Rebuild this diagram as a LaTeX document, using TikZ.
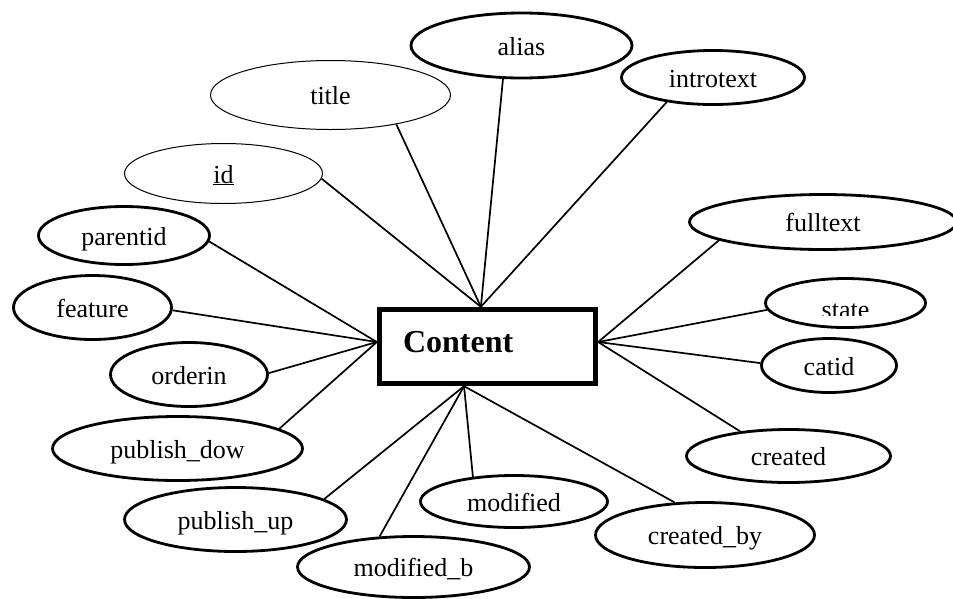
\documentclass[tikz,border=0pt]{standalone}
\usepackage{fontspec}
\setmainfont{Liberation Serif}
\usetikzlibrary{shapes.geometric,calc}
\tikzset{
  attr/.style={ellipse, draw, line width=2.8pt, inner sep=0pt,
    font=\fontsize{26}{30}\selectfont, text height=19pt, text depth=0pt},
  thinattr/.style={attr, line width=1pt},
  entity/.style={rectangle, draw, line width=5.3pt, minimum width=216pt,
    minimum height=74pt, text width=169pt, inner xsep=23.5pt, inner ysep=0pt,
    align=left, text height=22pt, text depth=11pt,
    font=\fontsize{32}{38}\selectfont\bfseries},
  link/.style={line width=1.7pt}
}
\begin{document}
\begin{tikzpicture}[x=1pt, y=-1pt]
  \clip (0,0) rectangle (953,598);

  % entity
  \node[entity] (content) at (487.5,346.5) {Content};
  \coordinate (ctop)   at ($(content.north west)!0.47!(content.north east)$);
  \coordinate (cbot)   at ($(content.south west)!0.394!(content.south east)$);
  \coordinate (cleft)  at ($(content.west)+(0,-4.5)$);
  \coordinate (cright) at ($(content.east)+(0,-4.5)$);

  % attributes
  \node[thinattr, minimum width=240pt, minimum height=69pt] (title) at (330.5,95) {title};
  \node[thinattr, minimum width=198pt, minimum height=60pt] (id) at (223.5,173.5) {\underline{id}};
  \node[attr, minimum width=221pt, minimum height=65pt] (alias) at (521.5,45.5) {alias};
  \node[attr, minimum width=183pt, minimum height=54pt] (introtext) at (713,77.5) {introtext};
  \node[attr, minimum width=267pt, minimum height=55pt] (fulltext) at (823,222) {fulltext};
  \node[attr, minimum width=160pt, minimum height=49pt] (state) at (845.5,303) {};
  \node[attr, minimum width=135pt, minimum height=54pt] (catid) at (829,365.5) {catid};
  \node[attr, minimum width=204pt, minimum height=53pt] (created) at (788.5,456) {created};
  \node[attr, minimum width=219pt, minimum height=65pt] (createdby) at (705,535) {created\_by};
  \node[attr, minimum width=187pt, minimum height=52pt] (modified) at (514,501.5) {modified};
  \node[attr, minimum width=232pt, minimum height=61pt] (modifiedb) at (413.5,567) {modified\_b};
  \node[attr, minimum width=222pt, minimum height=64pt] (publishup) at (235.5,519.5) {publish\_up};
  \node[attr, minimum width=250pt, minimum height=64pt] (publishdow) at (177.5,448.5) {publish\_dow};
  \node[attr, minimum width=157pt, minimum height=64pt] (orderin) at (189,374.5) {orderin};
  \node[attr, minimum width=158pt, minimum height=64pt] (feature) at (92.5,307.5) {feature};
  \node[attr, minimum width=171pt, minimum height=58pt] (parentid) at (124,235.5) {parentid};

  % the label of "state" sits low and is cut off along its lower part
  \begin{scope}
    \clip (state.north west) rectangle ($(state.east)+(0,12)$);
    \node[attr, draw=none, minimum width=0pt, minimum height=0pt] (statetext)
      at ($(state.center)+(0,5.5)$) {state};
  \end{scope}

  % connectors
  \draw[link] (id.-3) -- (ctop);
  \draw[link] (title.-24) -- (ctop);
  \draw[link] (alias.-119) -- (ctop);
  \draw[link] (introtext.-152) -- (ctop);

  \draw[link] (fulltext.-170) -- (cright);
  \draw[link] (state.-175) -- (cright);
  \draw[link] (catid.178) -- (cright);
  \draw[link] (created.153) -- (cright);

  \draw[link] (createdby.133) -- (cbot);
  \draw[link] (modified.149) -- (cbot);
  \draw[link] (modifiedb.138) -- (cbot);
  \draw[link] (publishup.13) -- (cbot);

  \draw[link] (publishdow.11) -- (cleft);
  \draw[link] (orderin.1) -- (cleft);
  \draw[link] (feature.-2.5) -- (cleft);
  \draw[link] (parentid.-4) -- (cleft);
\end{tikzpicture}
\end{document}
